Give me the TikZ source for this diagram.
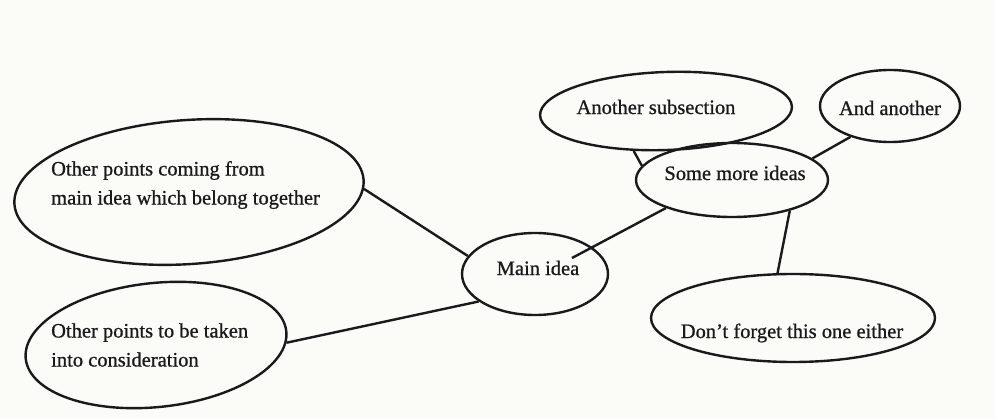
\documentclass[tikz,border=0pt]{standalone}
\usepackage{fontspec}
\setmainfont{Liberation Serif}
\newfontfamily\inkfont[FakeBold=0.8,Ligatures=TeX]{Liberation Serif}
\usetikzlibrary{shapes.geometric}
\definecolor{paper}{HTML}{FBFBF8}
\definecolor{ink}{HTML}{1A1A1A}
\tikzset{
  bubble/.style={ellipse, draw=ink, line width=2.4pt, inner sep=0pt},
  lbl/.style={font=\inkfont\fontsize{20.5}{29}\selectfont, text=ink, inner sep=0pt, align=left},
  link/.style={draw=ink, line width=2.4pt}
}
\begin{document}
\begin{tikzpicture}[x=1pt,y=-1pt]
\fill[paper] (0,0) rectangle (995,419);
\useasboundingbox (0,0) rectangle (995,419);
% bubbles
\node[bubble, minimum width=350pt, minimum height=144pt, rotate=4] (e1) at (189,192) {};
\node[bubble, minimum width=262pt, minimum height=124pt, rotate=6] (e2) at (156,345) {};
\node[bubble, minimum width=146pt, minimum height=82pt] (main) at (535,274) {};
\node[bubble, minimum width=252pt, minimum height=78pt, rotate=2] (sub) at (666,111) {};
\node[bubble, minimum width=140pt, minimum height=72pt] (and) at (890,106) {};
\node[bubble, minimum width=192pt, minimum height=74pt] (more) at (732,180) {};
\node[bubble, minimum width=284pt, minimum height=88pt] (dont) at (793,318) {};
% texts
\node[lbl, anchor=west] (t1) at (51,185) {Other points coming from\\main idea which belong together};
\node[lbl, anchor=west] (t2) at (51,345) {Other points to be taken\\into consideration};
\node[lbl] (tm) at (538,268) {Main idea};
\node[lbl] (ts) at (656,107) {Another subsection};
\node[lbl] (ta) at (890,108) {And another};
\node[lbl] (tmore) at (735,173) {Some more ideas};
\node[lbl] (tdont) at (792,333) {Don’t forget this one either};
% connectors
\coordinate (mi) at (572,258);
\draw[link] (e1.-3) -- (main.165);
\draw[link] (e2.-5) -- (main.206);
\draw[link] (mi) -- (more.203);
\draw[link] (sub.229) -- (more.171);
\draw[link] (more.15) -- (and.218);
\draw[link] (more.332) -- (dont.109);
\end{tikzpicture}
\end{document}
